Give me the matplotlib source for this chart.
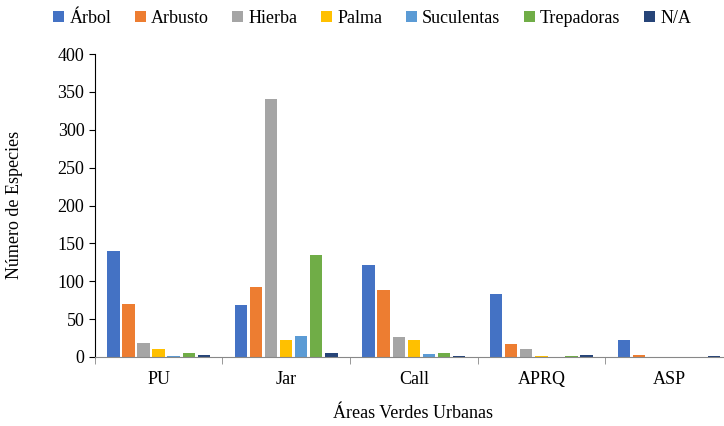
import numpy as np
import matplotlib.pyplot as plt

plt.rcParams['font.family'] = ['Liberation Serif', 'DejaVu Serif']

# Data
categories = ['PU', 'Jar', 'Call', 'APRQ', 'ASP']
series_names = ['Árbol', 'Arbusto', 'Hierba', 'Palma', 'Suculentas', 'Trepadoras', 'N/A']
arbol = [140, 69, 121, 83, 23]
arbusto = [70, 93, 88, 17, 3]
hierba = [18, 341, 26, 10, 0]
palma = [10, 22, 23, 1, 0]
suculentas = [1, 28, 4, 0, 0]
trepadoras = [5, 135, 5, 1, 0]
na = [3, 5, 1, 2, 1]
series = [arbol, arbusto, hierba, palma, suculentas, trepadoras, na]
colors = ['#4472C4', '#ED7D31', '#A5A5A5', '#FFC000', '#5B9BD5', '#70AD47', '#264478']

fig = plt.figure(figsize=(7.24, 4.26), dpi=100)
ax = fig.add_axes([0.131, 0.162, 0.881, 0.711])

x = np.arange(len(categories))
step = 0.118
width = 0.097
for i, (vals, name, c) in enumerate(zip(series, series_names, colors)):
    ax.bar(x + (i - 3) * step, vals, width, color=c, label=name)

ax.set_xlim(-0.5, len(categories) - 0.5)
ax.set_ylim(0, 400)
ax.set_yticks(range(0, 401, 50))
ax.set_xticks(x)
ax.set_xticklabels(categories, fontsize=13)
ax.tick_params(axis='x', which='major', length=0, pad=10)
ax.set_xticks(np.arange(-0.5, len(categories), 1), minor=True)
ax.tick_params(axis='x', which='minor', length=5, color='#888888')
ax.tick_params(axis='y', labelsize=13, length=4)

for s in ['top', 'right']:
    ax.spines[s].set_visible(False)
ax.spines['bottom'].set_color('#888888')
ax.spines['left'].set_color('black')

fig.text(15 / 724, 1 - 205 / 426, 'Número de Especies', fontsize=13,
         rotation=90, ha='center', va='center')
fig.text(413 / 724, 1 - 414 / 426, 'Áreas Verdes Urbanas', fontsize=13,
         ha='center', va='center')

fig.legend(loc='center', bbox_to_anchor=(0.514, 0.957), ncol=7, frameon=False,
           fontsize=13, handlelength=0.6, handleheight=0.6, handletextpad=0.3,
           columnspacing=1.3)

fig.savefig('out.png', dpi=100)
